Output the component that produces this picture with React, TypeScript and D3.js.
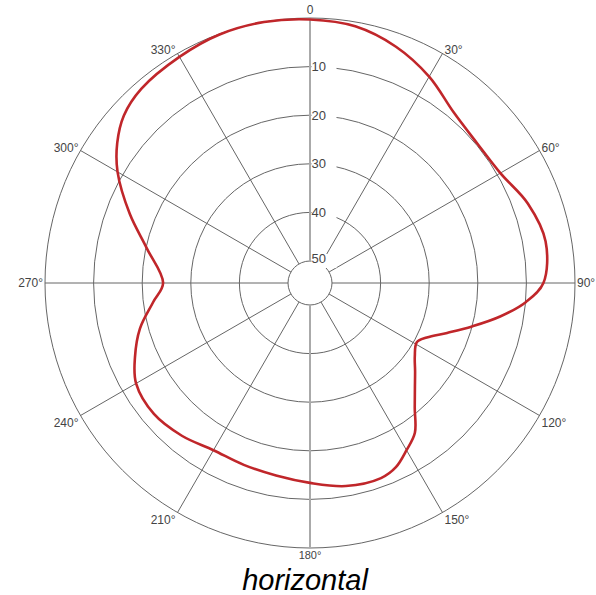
import React from "react";
import * as d3 from "d3";

const width = 596;
const height = 595;
const cx = 310;
const cy = 283;
const outerR = 265;
const innerR = 22;

// ring levels (dB below max)
const ringLevels = [0, 10, 20, 30, 40, 50];
const ringLabels = ["10", "20", "30", "40", "50"];
const spokeAngles = [0, 30, 60, 90, 120, 150, 180, 210, 240, 270, 300, 330];
const spokeLabels = ["0", "30°", "60°", "90°", "120°", "150°", "180°", "210°", "240°", "270°", "300°", "330°"];

// horizontal pattern: angle (deg) and attenuation (dB)
const patternAngles = [0, 10, 20, 30, 40, 50, 60, 70, 80, 90, 95, 100, 105, 110, 115, 119, 125, 130, 135, 140, 145, 150, 155, 160, 170, 180, 190, 200, 210, 220, 230, 240, 247, 255, 263, 270, 282, 291, 300, 306, 312, 319, 330, 340, 350];
const patternDb = [0.3, 0.9, 2.8, 5.5, 8.6, 9.7, 9.3, 6.8, 5.3, 6.5, 9.9, 14.8, 20, 24.5, 28, 29.4, 28.2, 26.3, 24, 21, 16.9, 14.8, 12.7, 11.8, 12.1, 13.4, 14.3, 14.7, 14.8, 13.5, 12.6, 13.2, 15.4, 18.3, 22, 24.3, 20.2, 14.8, 8.8, 5.5, 3, 1.6, 0.8, 0.1, 0];

const r = d3.scaleLinear().domain([0, 50]).range([outerR, innerR]);
const rad = (deg: number) => (deg * Math.PI) / 180;

const pattern = patternAngles.map((a, i) => ({ a, v: patternDb[i] }));

const line = d3
  .lineRadial<{ a: number; v: number }>()
  .angle((d) => rad(d.a))
  .radius((d) => r(d.v))
  .curve(d3.curveCatmullRomClosed.alpha(0.5));

const App = () => {
  return (
    <svg
      width={width}
      height={height}
      style={{ position: "absolute", left: 0, top: 0, background: "#fff" }}
      fontFamily="'Liberation Sans', Arial, sans-serif"
    >
      <g transform={`translate(${cx}, ${cy})`}>
        {ringLevels.map((v) => (
          <circle key={v} r={r(v)} fill="none" stroke="#666" strokeWidth={1} />
        ))}
        {spokeAngles
          .filter((a) => a % 180 !== 0)
          .map((a) => (
            <line
              key={a}
              x1={r(50) * Math.sin(rad(a))}
              y1={-r(50) * Math.cos(rad(a))}
              x2={r(0) * Math.sin(rad(a))}
              y2={-r(0) * Math.cos(rad(a))}
              stroke="#666"
              strokeWidth={1}
            />
          ))}
        <line x1={0} y1={-r(0)} x2={0} y2={-r(50)} stroke="#aaa" strokeWidth={2} />
        <line x1={0} y1={r(0)} x2={0} y2={r(50)} stroke="#aaa" strokeWidth={2} />
        {ringLabels.map((t, i) => {
          const y = -r(ringLevels[i + 1]);
          return (
            <g key={t}>
              <rect x={1.5} y={y - 7} width={25} height={14} fill="#fff" />
              <text
                x={1.5}
                y={i === 4 ? y - 3 : y}
                fontSize={13}
                fill="#444"
                dominantBaseline="central"
              >
                {t}
              </text>
            </g>
          );
        })}
        {spokeAngles.map((a, i) => {
          const s = Math.sin(rad(a));
          const c = Math.cos(rad(a));
          const ex = r(0) * s;
          const ey = -r(0) * c;
          let anchor = "middle";
          let dx = 0;
          if (s > 0.1) {
            anchor = "start";
            dx = 2;
          } else if (s < -0.1) {
            anchor = "end";
            dx = -2;
          }
          let dy = 0;
          if (a === 0) dy = -8;
          else if (a === 180) dy = 7;
          else if (c > 0.1) dy = c > 0.7 ? -4 : -3;
          else if (c < -0.1) dy = 7.5;
          return (
            <text
              key={a}
              x={ex + dx}
              y={ey + dy}
              textAnchor={anchor}
              dominantBaseline="central"
              fontSize={a === 180 ? 11 : 12}
              fill="#444"
            >
              {spokeLabels[i]}
            </text>
          );
        })}
        <path d={line(pattern) || ""} fill="none" stroke="#c0262a" strokeWidth={2.6} strokeLinejoin="round" />
      </g>
      <text
        x={305}
        y={590}
        textAnchor="middle"
        fontSize={29}
        fontStyle="italic"
        fill="#000"
      >
        horizontal
      </text>
    </svg>
  );
};

export default App;
